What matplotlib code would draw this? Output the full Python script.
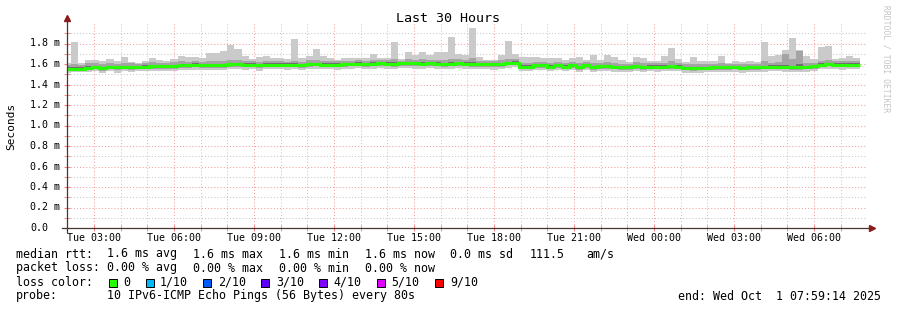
import matplotlib
matplotlib.use('Agg')
import matplotlib.pyplot as plt
import matplotlib.dates as mdates
import matplotlib.transforms as mtransforms
from matplotlib.patches import Rectangle
from datetime import datetime, timedelta

# ---------------- data ----------------
t_end = datetime(2025, 10, 1, 7, 59, 14)
t_start = t_end - timedelta(hours=30)
first_bin_start = datetime(2025, 9, 30, 1, 52, 0)
bin_minutes = 16

# median rtt (ms) per 16-minute bin
rtt_median = [1.555,1.555,1.555,1.564,1.571,1.561,1.571,1.568,1.571,1.571,
1.571,1.574,1.580,1.577,1.577,1.580,1.587,1.587,1.593,1.587,
1.587,1.587,1.587,1.600,1.600,1.593,1.593,1.587,1.593,1.593,
1.593,1.593,1.593,1.587,1.600,1.600,1.593,1.593,1.593,1.600,
1.600,1.603,1.600,1.603,1.606,1.603,1.603,1.606,1.606,1.606,
1.603,1.606,1.603,1.600,1.603,1.606,1.603,1.600,1.597,1.597,
1.597,1.600,1.610,1.613,1.574,1.574,1.587,1.587,1.574,1.587,
1.574,1.587,1.568,1.587,1.568,1.580,1.580,1.571,1.568,1.568,
1.580,1.568,1.574,1.574,1.574,1.580,1.574,1.561,1.561,1.561,
1.561,1.568,1.568,1.568,1.568,1.561,1.568,1.568,1.568,1.574,
1.574,1.574,1.568,1.568,1.568,1.580,1.593,1.600,1.593,1.593,
1.593,1.593]

rtt_max = [1.61,1.81,1.607,1.64,1.64,1.63,1.65,1.63,1.67,1.62,
1.61,1.63,1.66,1.64,1.63,1.65,1.68,1.665,1.665,1.66,
1.71,1.71,1.73,1.785,1.746,1.68,1.65,1.67,1.68,1.66,
1.66,1.65,1.844,1.66,1.68,1.746,1.68,1.66,1.64,1.66,
1.66,1.66,1.66,1.70,1.66,1.66,1.81,1.65,1.717,1.69,
1.717,1.69,1.717,1.717,1.866,1.70,1.69,1.954,1.665,1.64,
1.64,1.69,1.824,1.70,1.67,1.67,1.67,1.66,1.66,1.66,
1.64,1.66,1.67,1.64,1.69,1.64,1.69,1.67,1.64,1.62,
1.67,1.66,1.63,1.63,1.68,1.756,1.65,1.62,1.67,1.63,
1.63,1.63,1.68,1.61,1.63,1.62,1.63,1.62,1.81,1.68,
1.69,1.736,1.854,1.736,1.68,1.65,1.77,1.78,1.65,1.66,
1.68,1.66]

rtt_min = [1.515,1.518,1.520,1.522,1.528,1.515,1.530,1.512,1.528,1.525,
1.530,1.532,1.535,1.530,1.528,1.536,1.540,1.542,1.545,1.538,
1.540,1.545,1.540,1.552,1.550,1.545,1.548,1.535,1.548,1.550,
1.548,1.545,1.550,1.540,1.552,1.555,1.548,1.550,1.546,1.552,
1.555,1.558,1.552,1.555,1.560,1.555,1.550,1.560,1.558,1.556,
1.552,1.560,1.555,1.550,1.555,1.560,1.555,1.552,1.548,1.550,
1.545,1.552,1.565,1.570,1.530,1.528,1.540,1.542,1.528,1.540,
1.530,1.542,1.520,1.540,1.522,1.535,1.532,1.525,1.520,1.522,
1.535,1.520,1.528,1.526,1.530,1.535,1.528,1.515,1.512,1.515,
1.518,1.520,1.522,1.520,1.525,1.515,1.522,1.520,1.525,1.530,
1.528,1.526,1.520,1.522,1.525,1.535,1.548,1.555,1.548,1.545,
1.548,1.550]

rtt_low2 = [1.535,1.538,1.537,1.542,1.548,1.536,1.550,1.540,1.548,1.546,
1.550,1.552,1.556,1.552,1.550,1.556,1.562,1.564,1.568,1.560,
1.562,1.565,1.560,1.575,1.572,1.568,1.570,1.560,1.570,1.572,
1.568,1.566,1.570,1.562,1.574,1.576,1.570,1.572,1.568,1.575,
1.576,1.580,1.575,1.578,1.582,1.578,1.575,1.582,1.580,1.578,
1.576,1.582,1.578,1.574,1.578,1.582,1.578,1.575,1.572,1.574,
1.570,1.575,1.588,1.592,1.550,1.548,1.562,1.565,1.550,1.562,
1.552,1.564,1.545,1.562,1.546,1.556,1.555,1.548,1.545,1.546,
1.556,1.544,1.550,1.550,1.552,1.556,1.550,1.538,1.536,1.538,
1.540,1.545,1.546,1.544,1.548,1.538,1.545,1.544,1.548,1.552,
1.550,1.550,1.545,1.546,1.548,1.556,1.570,1.578,1.570,1.568,
1.570,1.572]

rtt_high2 = [1.595,1.600,1.590,1.605,1.608,1.600,1.610,1.602,1.612,1.605,
1.600,1.612,1.618,1.612,1.610,1.618,1.625,1.622,1.628,1.620,
1.625,1.628,1.625,1.640,1.635,1.628,1.625,1.622,1.628,1.625,
1.626,1.624,1.630,1.622,1.635,1.640,1.628,1.630,1.625,1.632,
1.634,1.636,1.632,1.640,1.640,1.636,1.645,1.634,1.645,1.640,
1.645,1.640,1.642,1.640,1.650,1.645,1.638,1.660,1.630,1.626,
1.628,1.640,1.652,1.650,1.608,1.612,1.620,1.622,1.610,1.622,
1.610,1.622,1.605,1.620,1.612,1.614,1.618,1.606,1.604,1.600,
1.615,1.605,1.610,1.608,1.612,1.625,1.610,1.596,1.600,1.598,
1.596,1.604,1.612,1.600,1.604,1.598,1.604,1.602,1.625,1.612,
1.615,1.700,1.650,1.730,1.610,1.612,1.632,1.636,1.626,1.625,
1.628,1.626]

rtt_low4 = [1.545,1.546,1.544,1.552,1.560,1.548,1.562,1.555,1.560,1.562,
1.562,1.564,1.570,1.566,1.568,1.570,1.576,1.578,1.582,1.576,
1.578,1.576,1.578,1.588,1.590,1.582,1.584,1.576,1.583,1.585,
1.582,1.584,1.583,1.576,1.590,1.590,1.584,1.582,1.584,1.590,
1.590,1.594,1.590,1.592,1.596,1.593,1.592,1.596,1.595,1.596,
1.592,1.596,1.594,1.589,1.592,1.596,1.592,1.590,1.586,1.588,
1.586,1.590,1.600,1.604,1.564,1.562,1.577,1.578,1.563,1.578,
1.564,1.576,1.557,1.578,1.558,1.570,1.569,1.561,1.557,1.558,
1.570,1.558,1.563,1.564,1.565,1.570,1.563,1.550,1.551,1.550,
1.552,1.558,1.557,1.558,1.558,1.550,1.558,1.557,1.558,1.564,
1.563,1.564,1.557,1.558,1.557,1.570,1.583,1.590,1.582,1.583,
1.584,1.582]

rtt_high7 = [1.568,1.572,1.566,1.577,1.584,1.574,1.585,1.580,1.585,1.583,
1.583,1.587,1.593,1.590,1.589,1.593,1.600,1.599,1.606,1.600,
1.600,1.601,1.600,1.614,1.613,1.606,1.605,1.600,1.606,1.605,
1.606,1.605,1.608,1.600,1.613,1.614,1.606,1.606,1.605,1.613,
1.613,1.616,1.613,1.617,1.619,1.616,1.618,1.618,1.620,1.619,
1.617,1.619,1.616,1.614,1.618,1.619,1.616,1.622,1.610,1.610,
1.610,1.614,1.624,1.626,1.587,1.588,1.600,1.601,1.587,1.600,
1.587,1.600,1.581,1.600,1.582,1.593,1.594,1.584,1.581,1.580,
1.593,1.581,1.587,1.587,1.588,1.595,1.587,1.574,1.575,1.574,
1.574,1.581,1.582,1.581,1.581,1.574,1.581,1.582,1.582,1.588,
1.587,1.592,1.581,1.598,1.581,1.593,1.606,1.613,1.606,1.606,
1.606,1.606]

y_tick_values = [0.0, 0.2, 0.4, 0.6, 0.8, 1.0, 1.2, 1.4, 1.6, 1.8]
y_tick_labels = ["0.0", "0.2 m", "0.4 m", "0.6 m", "0.8 m", "1.0 m",
                 "1.2 m", "1.4 m", "1.6 m", "1.8 m"]

loss_labels = ["0", "1/10", "2/10", "3/10", "4/10", "5/10", "9/10"]
loss_colors = ["#26ff00", "#00b8ff", "#0059ff", "#5e00ff", "#7e00ff", "#dd00ff", "#ff0000"]

title = "Last 30 Hours"

# ---------------- figure ----------------
W, H = 897, 310
plt.rcParams['font.family'] = ['DejaVu Sans Mono']
fig = plt.figure(figsize=(W / 100, H / 100), dpi=100)
fig.patch.set_facecolor('white')

def fx(px):
    return px / W

def fy(py):
    return 1 - py / H

ax = fig.add_axes([fx(67), 82 / H, 800 / W, 205 / H])
ax.set_facecolor('white')

edges = [first_bin_start + timedelta(minutes=bin_minutes * i) for i in range(len(rtt_median) + 1)]
ex = mdates.date2num(edges)

ax.stairs(rtt_max, ex, baseline=rtt_min, fill=True, color='#cacaca', lw=0, zorder=2)
ax.stairs(rtt_high2, ex, baseline=rtt_low2, fill=True, color='#a4a4a4', lw=0, zorder=3)
ax.stairs(rtt_high7, ex, baseline=rtt_low4, fill=True, color='#707070', lw=0, zorder=4)
ax.stairs(rtt_median, ex, baseline=None, color=loss_colors[0], lw=2.2, zorder=5)

ax.set_xlim(mdates.date2num(t_start), mdates.date2num(t_end))
ax.set_ylim(0, 2.0)

# grid
ax.xaxis.set_major_locator(mdates.HourLocator(byhour=range(0, 24, 3)))
ax.xaxis.set_minor_locator(mdates.HourLocator())
ax.xaxis.set_major_formatter(mdates.DateFormatter('%a %H:%M'))
ax.set_yticks(y_tick_values)
ax.set_yticks([v / 10 for v in range(1, 20, 2)], minor=True)
ax.set_yticklabels([])
ax.set_axisbelow(True)
ax.grid(True, which='minor', color='#c8c8c8', linestyle=(0, (1, 2)), lw=0.75)
ax.grid(True, which='major', color='#f2a0a0', linestyle=(0, (1, 2)), lw=0.75)

ax.tick_params(axis='x', which='both', direction='inout', length=4, color='#f08080',
               labelsize=7.2, pad=1.8, labelcolor='black')
ax.tick_params(axis='y', which='both', direction='inout', length=4, color='#f08080')

for s in ['top', 'right', 'left', 'bottom']:
    ax.spines[s].set_visible(False)

axis_col = '#4a3434'
arrow_col = '#8b1a1a'
ax.plot([0, 0], [-0.02, 1.02], transform=ax.transAxes, color=axis_col, lw=0.9, clip_on=False, zorder=6)
ax.plot([-0.006, 1.004], [0, 0], transform=ax.transAxes, color=axis_col, lw=0.9, clip_on=False, zorder=6)
ax.plot([0], [1.025], transform=ax.transAxes, marker='^', color=arrow_col, ms=4.5, clip_on=False, zorder=7)
ax.plot([1.006], [0], transform=ax.transAxes, marker='>', color=arrow_col, ms=4.5, clip_on=False, zorder=7)

# y labels
trans = mtransforms.blended_transform_factory(fig.transFigure, ax.transData)
for v, lab in zip(y_tick_values, y_tick_labels):
    ax.text(fx(30), v, lab, transform=trans, ha='left', va='center', fontsize=7.2, color='black')

# title & axis label
fig.text(fx(448), fy(19), title, ha='center', va='center', fontsize=9.6)
fig.text(fx(11), fy(126), 'Seconds', rotation=90, ha='center', va='center', fontsize=8.0)
fig.text(fx(886), fy(59), 'RRDTOOL / TOBI OETIKER', rotation=270, ha='center', va='center',
         fontsize=5.8, color='#c4c4c4')

fs = 8.4
# legend rows
row1 = fy(254)
fig.text(fx(16), row1, 'median rtt:', va='center', fontsize=fs)
for x, s in [(107, '1.6 ms avg'), (193, '1.6 ms max'), (279, '1.6 ms min'),
             (365, '1.6 ms now'), (450, '0.0 ms sd'), (530, '111.5'), (586, 'am/s')]:
    fig.text(fx(x), row1, s, va='center', fontsize=fs)

row2 = fy(268)
fig.text(fx(16), row2, 'packet loss:', va='center', fontsize=fs)
for x, s in [(107, '0.00 % avg'), (193, '0.00 % max'), (279, '0.00 % min'), (365, '0.00 % now')]:
    fig.text(fx(x), row2, s, va='center', fontsize=fs)

row3 = fy(282)
fig.text(fx(16), row3, 'loss color:', va='center', fontsize=fs)
box_x = [109, 146, 203, 261, 319, 377, 435]
lab_x = [123, 160, 218, 276, 333, 391, 450]
for bx, lx, c, lab in zip(box_x, lab_x, loss_colors, loss_labels):
    fig.add_artist(Rectangle((fx(bx), fy(286.5)), 8 / W, 8 / H, transform=fig.transFigure,
                             facecolor=c, edgecolor='black', lw=0.7))
    fig.text(fx(lx), row3, lab, va='center', fontsize=fs)

row4 = fy(296)
fig.text(fx(16), row4, 'probe:', va='center', fontsize=fs)
fig.text(fx(107), row4, '10 IPv6-ICMP Echo Pings (56 Bytes) every 80s', va='center', fontsize=fs)
fig.text(fx(881), row4, 'end: Wed Oct  1 07:59:14 2025', ha='right', va='center', fontsize=fs)

fig.savefig('out.png', dpi=100, facecolor='white')
